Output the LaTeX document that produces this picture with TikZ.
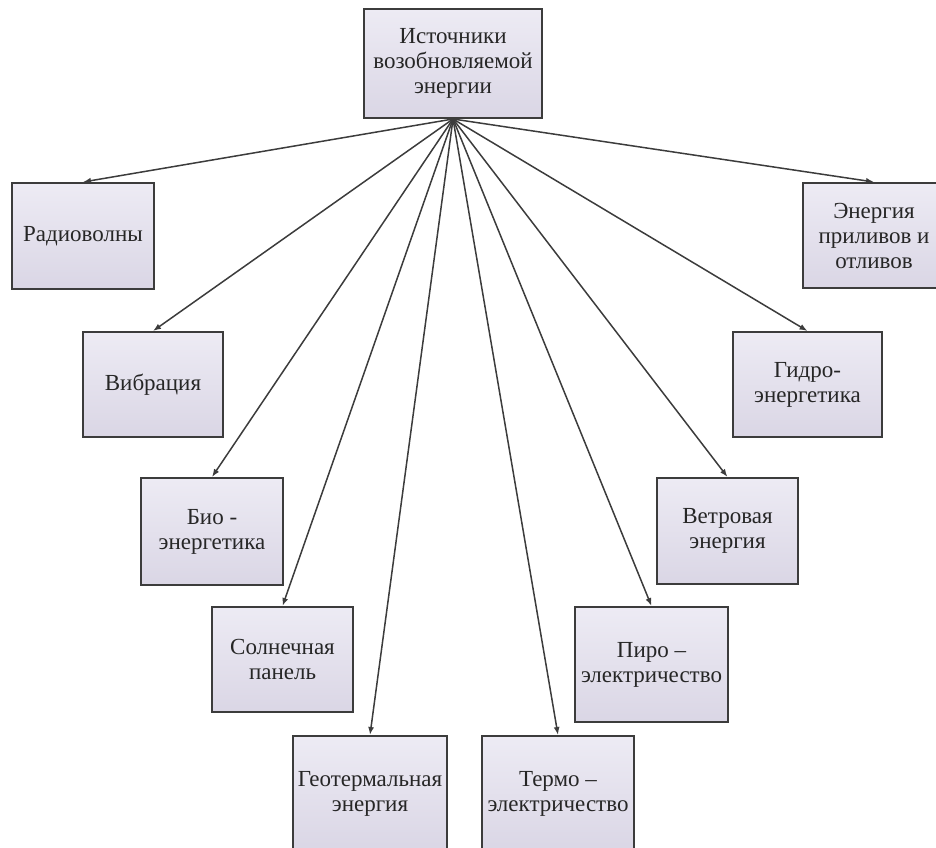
\documentclass[tikz,border=0pt]{standalone}
\usepackage{fontspec}
\setmainfont{Liberation Serif}
\usepackage{tikz}
\usetikzlibrary{arrows.meta}
\usepackage{xcolor}
\definecolor{boxline}{HTML}{3C3C3C}
\definecolor{boxtop}{HTML}{EDEBF4}
\definecolor{boxbot}{HTML}{DAD6E5}

\begin{document}
\begin{tikzpicture}[x=0.5pt,y=-0.5pt,
box/.style={rectangle,draw=boxline,line width=1pt,top color=boxtop,bottom color=boxbot,
  align=center,inner sep=0pt,text=black!85,font=\fontsize{11.5}{12.5}\selectfont},
link/.style={draw=boxline,line width=0.75pt,-{Latex[length=4pt,width=3pt]}}]
%\draw[help lines] (0,0) grid (936,847);
\useasboundingbox (0,0) rectangle (936,847);

\node (Root) [box,minimum width=89pt,minimum height=54.5pt] at (453,63.5) {Источники\\возобновляемой\\энергии};

% left side
\node (radio) [box,minimum width=71pt,minimum height=53pt] at (83,236) {Радиоволны};
\node (vibr) [box,minimum width=70pt,minimum height=52.5pt] at (153,384.5) {Вибрация};
\node (bio) [box,minimum width=71pt,minimum height=53.5pt] at (212,531.5) {Био -\\энергетика};
\node (solar) [box,minimum width=70.5pt,minimum height=52.5pt] at (282.5,659.5) {Солнечная\\панель};
\node (geo) [box,minimum width=77pt,minimum height=57.5pt] at (370,793.5) {Геотермальная\\энергия};

% right side
\node (thermo) [box,minimum width=76pt,minimum height=57.5pt] at (558,793.5) {Термо –\\электричество};
\node (pyro) [box,minimum width=76.5pt,minimum height=57.5pt] at (651.5,664.5) {Пиро –\\электричество};
\node (wind) [box,minimum width=70.5pt,minimum height=53pt] at (727.5,531) {Ветровая\\энергия};
\node (hydro) [box,minimum width=74.5pt,minimum height=52.5pt] at (807.5,384.5) {Гидро-\\энергетика};
\node (tides) [box,minimum width=71pt,minimum height=52.5pt] at (874,235.5) {Энергия\\приливов и\\отливов};

\draw[link] (Root.south) -- (radio.north);
\draw[link] (Root.south) -- (vibr.north);
\draw[link] (Root.south) -- (bio.north);
\draw[link] (Root.south) -- (solar.north);
\draw[link] (Root.south) -- (geo.north);
\draw[link] (Root.south) -- (thermo.north);
\draw[link] (Root.south) -- (pyro.north);
\draw[link] (Root.south) -- (wind.north);
\draw[link] (Root.south) -- (hydro.north);
\draw[link] (Root.south) -- (tides.north);
\end{tikzpicture}
\end{document}
